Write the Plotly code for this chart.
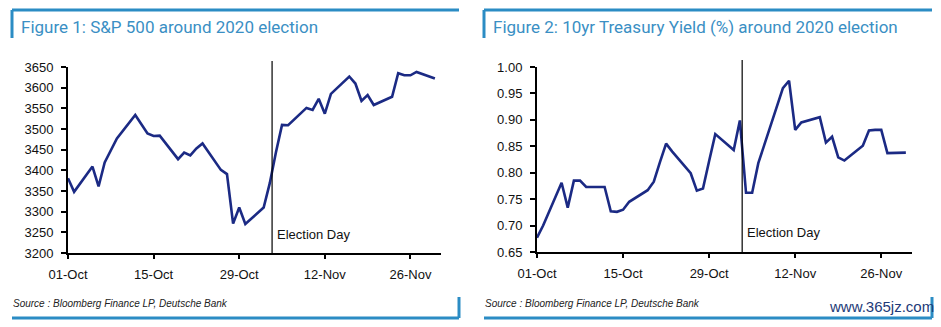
import plotly.graph_objects as go

# ---------------- data ----------------
spx_dates = ["2020-10-01", "2020-10-02", "2020-10-05", "2020-10-06", "2020-10-07", "2020-10-08",
             "2020-10-09", "2020-10-12", "2020-10-13", "2020-10-14", "2020-10-15", "2020-10-16",
             "2020-10-19", "2020-10-20", "2020-10-21", "2020-10-22", "2020-10-23", "2020-10-26",
             "2020-10-27", "2020-10-28", "2020-10-29", "2020-10-30", "2020-11-02", "2020-11-03",
             "2020-11-04", "2020-11-05", "2020-11-06", "2020-11-09", "2020-11-10", "2020-11-11",
             "2020-11-12", "2020-11-13", "2020-11-16", "2020-11-17", "2020-11-18", "2020-11-19",
             "2020-11-20", "2020-11-23", "2020-11-24", "2020-11-25", "2020-11-26", "2020-11-27",
             "2020-11-30"]
spx_values = [3381, 3348, 3409, 3361, 3419, 3447, 3477, 3534, 3512, 3489, 3483, 3484,
              3427, 3443, 3436, 3453, 3465, 3401, 3391, 3271, 3310, 3270, 3310, 3369,
              3443, 3510, 3509, 3551, 3546, 3573, 3537, 3585, 3627, 3610, 3568, 3582,
              3558, 3578, 3635, 3630, 3630, 3638, 3622]

ust_dates = ["2020-10-01", "2020-10-02", "2020-10-05", "2020-10-06", "2020-10-07", "2020-10-08",
             "2020-10-09", "2020-10-12", "2020-10-13", "2020-10-14", "2020-10-15", "2020-10-16",
             "2020-10-19", "2020-10-20", "2020-10-21", "2020-10-22", "2020-10-23", "2020-10-26",
             "2020-10-27", "2020-10-28", "2020-10-29", "2020-10-30", "2020-11-02", "2020-11-03",
             "2020-11-04", "2020-11-05", "2020-11-06", "2020-11-09", "2020-11-10", "2020-11-11",
             "2020-11-12", "2020-11-13", "2020-11-16", "2020-11-17", "2020-11-18", "2020-11-19",
             "2020-11-20", "2020-11-23", "2020-11-24", "2020-11-25", "2020-11-26", "2020-11-27",
             "2020-11-30"]
ust_values = [0.677, 0.700, 0.781, 0.734, 0.785, 0.785, 0.773, 0.773, 0.727, 0.726, 0.730, 0.745,
              0.767, 0.783, 0.820, 0.855, 0.840, 0.799, 0.766, 0.770, 0.822, 0.873, 0.843, 0.899,
              0.762, 0.762, 0.818, 0.925, 0.960, 0.974, 0.881, 0.895, 0.905, 0.857, 0.868, 0.829,
              0.823, 0.851, 0.880, 0.881, 0.881, 0.837, 0.838]

tick_dates = ["2020-10-01", "2020-10-15", "2020-10-29", "2020-11-12", "2020-11-26"]
election_date = "2020-11-03 09:00"
x_range = ["2020-10-01", "2020-12-01"]

titles = ["Figure 1: S&P 500 around 2020 election",
          "Figure 2: 10yr Treasury Yield (%) around 2020 election"]
source_text = "Source : Bloomberg Finance LP, Deutsche Bank"

# ---------------- layout helpers ----------------
W, H = 941, 327
def px(x):
    return x / W
def py(y):
    return 1 - y / H

LINE = "#1b2a84"
ACCENT = "#2b8cc4"
TITLE_C = "#3a8fc4"

fig = go.Figure()
fig.add_trace(go.Scatter(x=spx_dates, y=spx_values, mode="lines",
                         line=dict(color=LINE, width=2.6), xaxis="x", yaxis="y",
                         showlegend=False, hoverinfo="skip"))
fig.add_trace(go.Scatter(x=ust_dates, y=ust_values, mode="lines",
                         line=dict(color=LINE, width=2.6), xaxis="x2", yaxis="y2",
                         showlegend=False, hoverinfo="skip"))

tickfont = dict(family="Liberation Sans, Arial, sans-serif", size=13, color="#111111")
common_x = dict(type="date", range=x_range, tickvals=tick_dates, tickformat="%d-%b",
                showgrid=False, zeroline=False, showline=True, linecolor="black", linewidth=2,
                ticks="outside", ticklen=4, tickwidth=1.5, tickcolor="black",
                tickfont=tickfont, ticklabelstandoff=4, fixedrange=True, automargin=False)
common_y = dict(showgrid=False, zeroline=False, showline=True, linecolor="black", linewidth=2,
                ticks="outside", ticklen=5, tickwidth=1.5, tickcolor="black",
                tickfont=tickfont, ticklabelstandoff=5, fixedrange=True, automargin=False)

y_bottom_l, y_top = py(253), py(67)
y_bottom_r = py(252)

fig.update_layout(
    width=W, height=H, margin=dict(l=0, r=0, t=0, b=0, pad=0, autoexpand=False), autosize=False,
    paper_bgcolor="white", plot_bgcolor="white",
    xaxis=dict(common_x, domain=[px(68), px(441)], anchor="y"),
    yaxis=dict(common_y, domain=[y_bottom_l, y_top], range=[3200, 3650], dtick=50,
               tick0=3200, anchor="x"),
    xaxis2=dict(common_x, domain=[px(537), px(912)], anchor="y2"),
    yaxis2=dict(common_y, domain=[y_bottom_r, y_top], range=[0.65, 1.0], dtick=0.05,
                tick0=0.65, tickformat=".2f", anchor="x2"),
)

shapes = []
# election day lines
shapes.append(dict(type="line", xref="x", yref="paper", x0=election_date, x1=election_date,
                   y0=y_bottom_l, y1=py(61), line=dict(color="black", width=1.2)))
shapes.append(dict(type="line", xref="x2", yref="paper", x0=election_date, x1=election_date,
                   y0=y_bottom_r, y1=py(60), line=dict(color="black", width=1.2)))

# panel frames
for (left, right) in [(12, 459), (484, 932)]:
    shapes.append(dict(type="line", xref="paper", yref="paper", x0=px(left), x1=px(right),
                       y0=py(10), y1=py(10), line=dict(color=ACCENT, width=3)))
    shapes.append(dict(type="line", xref="paper", yref="paper", x0=px(left), x1=px(left),
                       y0=py(10), y1=py(38), line=dict(color=ACCENT, width=3)))
    shapes.append(dict(type="line", xref="paper", yref="paper", x0=px(left), x1=px(right),
                       y0=py(318), y1=py(318), line=dict(color=ACCENT, width=3)))
    shapes.append(dict(type="line", xref="paper", yref="paper", x0=px(right), x1=px(right),
                       y0=py(297), y1=py(318), line=dict(color=ACCENT, width=3)))
fig.update_layout(shapes=shapes)

ann = []
for i, (left, t) in enumerate(zip([19, 491], titles)):
    ann.append(dict(text=t, xref="paper", yref="paper", x=px(left), y=py(27),
                    xanchor="left", yanchor="middle", showarrow=False,
                    font=dict(family="Roboto, sans-serif", size=17, color=TITLE_C)))
    ann.append(dict(text=source_text, xref="paper", yref="paper", x=px(left - 8), y=py(303),
                    xanchor="left", yanchor="middle", showarrow=False,
                    font=dict(family="Liberation Sans Narrow, Arial Narrow, Liberation Sans, sans-serif",
                              size=10, color="#222222", style="italic")))
ann.append(dict(text="Election Day", xref="x", yref="paper", x=election_date, y=py(234),
                xanchor="left", yanchor="middle", xshift=3, showarrow=False,
                font=dict(family="Liberation Sans, Arial, sans-serif", size=13, color="#111111")))
ann.append(dict(text="Election Day", xref="x2", yref="paper", x=election_date, y=py(232),
                xanchor="left", yanchor="middle", xshift=3, showarrow=False,
                font=dict(family="Liberation Sans, Arial, sans-serif", size=13, color="#111111")))
ann.append(dict(text="www.365jz.com", xref="paper", yref="paper", x=px(936), y=py(306),
                xanchor="right", yanchor="middle", showarrow=False,
                font=dict(family="Liberation Sans Narrow, Liberation Sans, sans-serif",
                          size=15, color="#1d3a78")))
fig.update_layout(annotations=ann)

fig.write_html("out.html")
